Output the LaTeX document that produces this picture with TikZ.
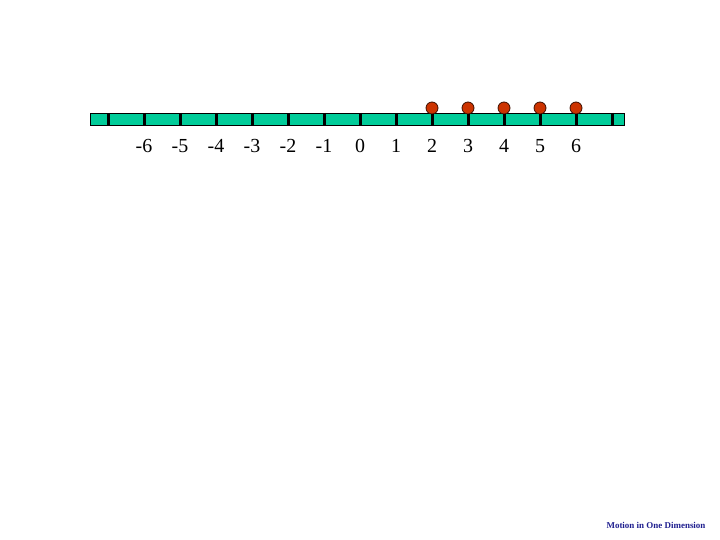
\documentclass[tikz,border=0pt]{standalone}
\usepackage{fontspec}
\setmainfont{Liberation Serif}
\definecolor{barteal}{HTML}{00CC99}
\definecolor{dotred}{HTML}{CC3300}
\definecolor{footblue}{HTML}{1F1F8F}
\begin{document}
\begin{tikzpicture}[
  x=1bp, y=-1bp,
  tick/.style={line width=3bp, black},
  ball/.style={circle, draw=black!70!dotred, fill=dotred, line width=0.8bp, minimum size=12bp, inner sep=0pt},
  numlabel/.style={font=\fontsize{20}{24}\selectfont, anchor=center}
]
\useasboundingbox (0,0) rectangle (720,540);
% number line
\draw[fill=barteal, line width=1bp] (90,114) rectangle (624,126);
\foreach \t in {0,...,14}
  \draw[tick] ({108+36*\t},113) -- ({108+36*\t},126);
\foreach \n in {-6,...,6}
  \node[numlabel] (lab\n) at ({360+36*\n},146) {\n};
% particles at 2..6
\foreach \n in {2,...,6} {
  \node[ball] (ball\n) at ({360+36*\n},108) {};
  \draw[tick] (ball\n.south) -- ({360+36*\n},126);
}
\node[font=\bfseries\fontsize{9}{11}\selectfont, text=footblue] (foot) at (656,525) {Motion in One Dimension};
\end{tikzpicture}
\end{document}
